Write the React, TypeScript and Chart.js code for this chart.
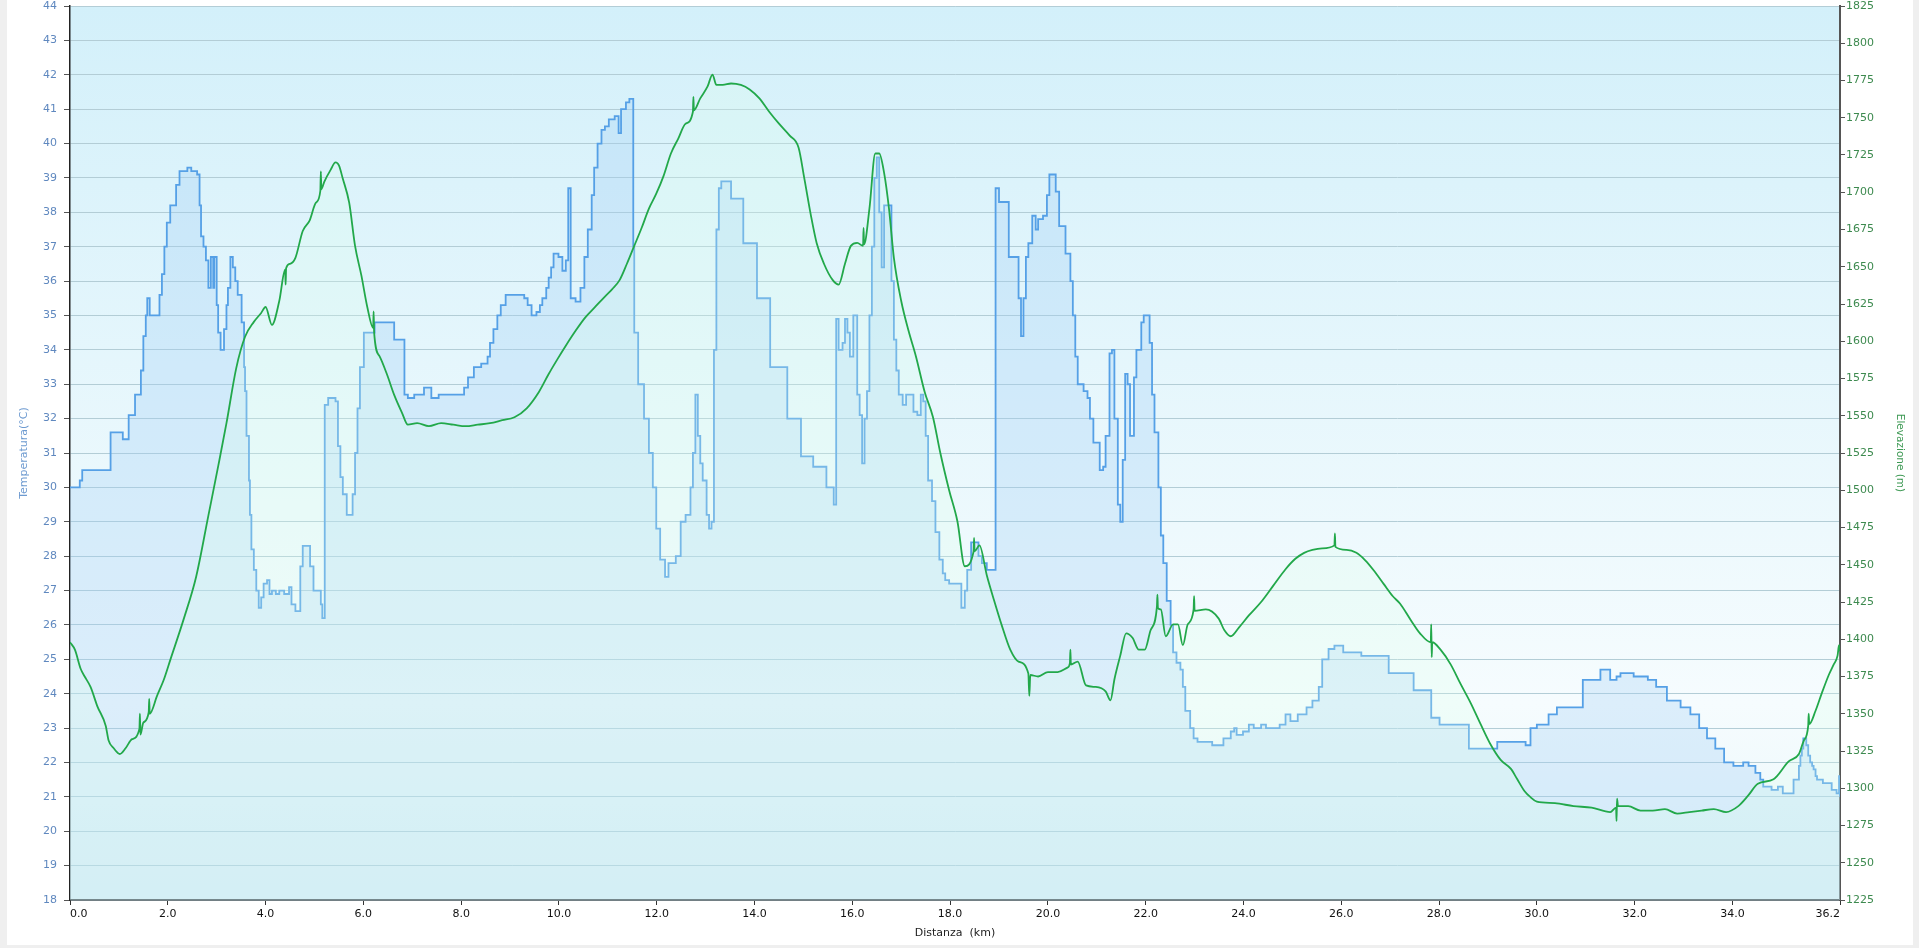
import React, { useEffect, useRef } from "react";
import { Chart, registerables } from "chart.js";

Chart.register(...registerables);

const FONT = "'DejaVu Sans', Verdana, sans-serif";

// temperature steps: distance (km) where the reading changes, and the new value (°C)
const tempKm = [
  0.0, 0.2, 0.25, 0.83, 1.08, 1.2, 1.33, 1.45, 1.5, 1.55, 1.58, 1.63, 1.83, 1.88, 1.93, 1.98,
  2.05, 2.17, 2.24, 2.4, 2.48, 2.6, 2.65, 2.68, 2.73, 2.78, 2.83, 2.88, 2.93, 2.95, 3.0, 3.03,
  3.08, 3.15, 3.2, 3.23, 3.28, 3.33, 3.38, 3.43, 3.51, 3.56, 3.58, 3.61, 3.66, 3.68, 3.71, 3.76,
  3.81, 3.86, 3.91, 3.96, 4.03, 4.08, 4.13, 4.21, 4.28, 4.38, 4.48, 4.53, 4.61, 4.71, 4.76, 4.91,
  4.98, 5.13, 5.16, 5.21, 5.28, 5.43, 5.48, 5.53, 5.58, 5.66, 5.78, 5.83, 5.88, 5.93, 6.01, 6.23,
  6.63, 6.84, 6.91, 7.04, 7.24, 7.39, 7.54, 8.06, 8.14, 8.26, 8.41, 8.54, 8.59, 8.66, 8.74, 8.81,
  8.91, 9.29, 9.36, 9.44, 9.54, 9.61, 9.66, 9.74, 9.79, 9.84, 9.89, 9.99, 10.07, 10.14, 10.19, 10.24,
  10.34, 10.44, 10.52, 10.59, 10.67, 10.72, 10.79, 10.87, 10.94, 11.02, 11.14, 11.22, 11.27, 11.37, 11.44, 11.52,
  11.54, 11.62, 11.74, 11.84, 11.92, 11.99, 12.07, 12.17, 12.24, 12.39, 12.49, 12.59, 12.69, 12.74, 12.79, 12.84,
  12.89, 12.94, 13.02, 13.07, 13.12, 13.17, 13.22, 13.27, 13.32, 13.52, 13.77, 14.05, 14.32, 14.67, 14.95, 15.2,
  15.47, 15.62, 15.67, 15.72, 15.8, 15.85, 15.9, 15.95, 16.02, 16.1, 16.15, 16.2, 16.25, 16.3, 16.35, 16.4,
  16.45, 16.5, 16.55, 16.6, 16.65, 16.8, 16.85, 16.9, 16.95, 17.03, 17.1, 17.25, 17.33, 17.4, 17.45, 17.5,
  17.55, 17.63, 17.7, 17.78, 17.85, 17.9, 17.98, 18.23, 18.3, 18.35, 18.43, 18.58, 18.65, 18.75, 18.93, 19.0,
  19.2, 19.4, 19.45, 19.5, 19.55, 19.6, 19.68, 19.75, 19.8, 19.9, 19.98, 20.03, 20.16, 20.23, 20.36, 20.46,
  20.51, 20.56, 20.61, 20.73, 20.81, 20.86, 20.93, 21.06, 21.13, 21.18, 21.26, 21.31, 21.36, 21.43, 21.48, 21.53,
  21.58, 21.63, 21.68, 21.76, 21.81, 21.91, 21.96, 22.08, 22.13, 22.18, 22.26, 22.31, 22.36, 22.43, 22.51, 22.56,
  22.63, 22.71, 22.76, 22.81, 22.91, 22.98, 23.06, 23.36, 23.59, 23.74, 23.81, 23.86, 23.99, 24.11, 24.21, 24.36,
  24.46, 24.74, 24.86, 24.96, 25.11, 25.29, 25.41, 25.54, 25.61, 25.74, 25.86, 26.04, 26.41, 26.97, 27.48, 27.84,
  28.01, 28.61, 29.19, 29.77, 29.87, 30.0, 30.24, 30.41, 30.94, 31.3, 31.5, 31.63, 31.71, 31.98, 32.27, 32.44,
  32.66, 32.94, 33.14, 33.32, 33.48, 33.65, 33.83, 34.02, 34.22, 34.33, 34.47, 34.57, 34.63, 34.8, 34.93, 35.03,
  35.25, 35.36, 35.39, 35.42, 35.45, 35.51, 35.55, 35.59, 35.63, 35.66, 35.7, 35.73, 35.85, 36.03, 36.13, 36.18,
  36.2,
];
const tempC = [
  30.0, 30.2, 30.5, 31.6, 31.4, 32.1, 32.7, 33.4, 34.4, 35.0, 35.5, 35.0, 35.6, 36.2, 37.0, 37.7,
  38.2, 38.8, 39.2, 39.3, 39.2, 39.1, 38.2, 37.3, 37.0, 36.6, 35.8, 36.7, 35.8, 36.7, 35.3, 34.5,
  34.0, 34.6, 35.3, 35.8, 36.7, 36.4, 36.0, 35.6, 34.8, 33.5, 32.8, 31.5, 30.2, 29.2, 28.2, 27.6,
  27.0, 26.5, 26.8, 27.2, 27.3, 26.9, 27.0, 26.9, 27.0, 26.9, 27.1, 26.6, 26.4, 27.7, 28.3, 27.7,
  27.0, 26.6, 26.2, 32.4, 32.6, 32.5, 31.2, 30.3, 29.8, 29.2, 29.8, 31.0, 32.3, 33.5, 34.5, 34.8,
  34.3, 32.7, 32.6, 32.7, 32.9, 32.6, 32.7, 32.9, 33.2, 33.5, 33.6, 33.8, 34.2, 34.6, 35.0, 35.3,
  35.6, 35.5, 35.3, 35.0, 35.1, 35.3, 35.5, 35.8, 36.1, 36.4, 36.8, 36.7, 36.3, 36.6, 38.7, 35.5,
  35.4, 35.8, 36.7, 37.5, 38.5, 39.3, 40.0, 40.4, 40.5, 40.7, 40.8, 40.3, 41.0, 41.2, 41.3, 37.0,
  34.5, 33.0, 32.0, 31.0, 30.0, 28.8, 27.9, 27.4, 27.8, 28.0, 29.0, 29.2, 30.0, 31.0, 32.7, 31.5,
  30.7, 30.2, 29.2, 28.8, 29.0, 34.0, 37.5, 38.7, 38.9, 38.4, 37.1, 35.5, 33.5, 32.0, 30.9, 30.6,
  30.0, 29.5, 34.9, 34.0, 34.2, 34.9, 34.5, 33.8, 35.0, 32.7, 32.1, 30.7, 32.0, 32.8, 35.0, 37.0,
  39.0, 39.6, 38.0, 36.4, 38.2, 36.0, 34.3, 33.4, 32.7, 32.4, 32.7, 32.2, 32.1, 32.7, 32.5, 31.5,
  30.2, 29.6, 28.7, 27.9, 27.5, 27.3, 27.2, 26.5, 27.0, 27.6, 28.4, 28.0, 27.8, 27.6, 38.7, 38.3,
  36.7, 35.5, 34.4, 35.5, 36.7, 37.1, 37.9, 37.5, 37.8, 37.9, 38.5, 39.1, 38.6, 37.6, 36.8, 36.0,
  35.0, 33.8, 33.0, 32.8, 32.6, 32.0, 31.3, 30.5, 30.6, 31.5, 33.9, 34.0, 32.0, 29.5, 29.0, 30.8,
  33.3, 33.0, 31.5, 33.2, 34.0, 34.8, 35.0, 34.2, 32.7, 31.6, 30.0, 28.6, 27.8, 26.7, 26.0, 25.2,
  24.9, 24.7, 24.2, 23.5, 23.0, 22.7, 22.6, 22.5, 22.7, 22.9, 23.0, 22.8, 22.9, 23.1, 23.0, 23.1,
  23.0, 23.1, 23.4, 23.2, 23.4, 23.6, 23.8, 24.2, 25.0, 25.3, 25.4, 25.2, 25.1, 24.6, 24.1, 23.3,
  23.1, 22.4, 22.6, 22.5, 23.0, 23.1, 23.4, 23.6, 24.4, 24.7, 24.4, 24.5, 24.6, 24.5, 24.4, 24.2,
  23.8, 23.6, 23.4, 23.0, 22.7, 22.4, 22.0, 21.9, 22.0, 21.9, 21.7, 21.5, 21.3, 21.2, 21.3, 21.1,
  21.5, 21.9, 22.2, 22.4, 22.7, 22.5, 22.2, 22.0, 21.9, 21.8, 21.6, 21.5, 21.4, 21.2, 21.1, 21.6,
  21.0,
];

// elevation profile: distance (km) and altitude (m), with the GPS spikes kept
const elevKm = [
  0.0, 0.1, 0.22, 0.3, 0.42, 0.56, 0.73, 0.79, 0.89, 1.02, 1.14, 1.27, 1.42, 1.43, 1.44, 1.5,
  1.61, 1.62, 1.63, 1.78, 1.92, 2.05, 2.33, 2.58, 2.83, 3.03, 3.2, 3.4, 3.58, 3.76, 3.91, 4.0,
  4.13, 4.28, 4.4, 4.41, 4.42, 4.5, 4.61, 4.76, 4.9, 5.03, 5.12, 5.13, 5.14, 5.2, 5.33, 5.43,
  5.5, 5.58, 5.71, 5.83, 5.96, 6.08, 6.2, 6.21, 6.22, 6.33, 6.48, 6.63, 6.79, 6.91, 7.1, 7.34,
  7.59, 7.84, 8.09, 8.34, 8.59, 8.84, 9.09, 9.34, 9.59, 9.79, 9.97, 10.14, 10.34, 10.54, 10.74, 10.94,
  11.09, 11.24, 11.39, 11.54, 11.69, 11.84, 11.99, 12.14, 12.29, 12.44, 12.59, 12.74, 12.75, 12.76, 12.89, 13.04,
  13.14, 13.22, 13.35, 13.52, 13.72, 13.9, 14.1, 14.3, 14.5, 14.72, 14.9, 15.02, 15.15, 15.27, 15.42, 15.6,
  15.72, 15.85, 15.97, 16.1, 16.22, 16.23, 16.24, 16.35, 16.47, 16.55, 16.65, 16.75, 16.85, 17.0, 17.15, 17.3,
  17.48, 17.65, 17.8, 17.98, 18.15, 18.3, 18.48, 18.49, 18.5, 18.6, 18.75, 18.9, 19.05, 19.23, 19.4, 19.6,
  19.62, 19.64, 19.8, 20.0, 20.2, 20.4, 20.45, 20.46, 20.47, 20.61, 20.78, 20.98, 21.18, 21.28, 21.36, 21.48,
  21.6, 21.73, 21.86, 21.98, 22.1, 22.23, 22.24, 22.25, 22.31, 22.41, 22.56, 22.66, 22.76, 22.86, 22.98, 22.99,
  23.0, 23.23, 23.49, 23.61, 23.74, 23.91, 24.11, 24.36, 24.61, 24.86, 25.06, 25.24, 25.41, 25.61, 25.86, 25.87,
  25.88, 26.11, 26.31, 26.49, 26.67, 26.87, 27.05, 27.2, 27.42, 27.61, 27.83, 27.84, 27.85, 27.86, 28.03, 28.24,
  28.44, 28.65, 28.85, 29.06, 29.26, 29.47, 29.6, 29.75, 29.87, 30.0, 30.37, 30.75, 31.12, 31.5, 31.62, 31.63,
  31.64, 31.66, 31.87, 32.12, 32.37, 32.62, 32.87, 33.12, 33.37, 33.62, 33.87, 34.12, 34.32, 34.52, 34.84, 35.15,
  35.36, 35.46, 35.55, 35.56, 35.57, 35.7, 35.83, 35.97, 36.07, 36.15, 36.18, 36.2,
];
const elevM = [
  1398, 1393, 1380, 1375, 1368, 1355, 1342, 1332, 1327, 1323, 1327, 1333, 1340, 1350, 1336, 1344,
  1351, 1360, 1350, 1362, 1373, 1386, 1414, 1442, 1483, 1516, 1545, 1582, 1603, 1613, 1619, 1623,
  1611, 1627, 1648, 1638, 1649, 1652, 1656, 1674, 1681, 1693, 1701, 1714, 1702, 1707, 1715, 1720,
  1718, 1709, 1693, 1664, 1644, 1623, 1609, 1620, 1606, 1590, 1578, 1564, 1552, 1544, 1545, 1543,
  1545, 1544, 1543, 1544, 1545, 1547, 1549, 1555, 1566, 1578, 1588, 1597, 1607, 1616, 1623, 1630,
  1635, 1641, 1652, 1664, 1676, 1689, 1699, 1711, 1726, 1736, 1746, 1754, 1764, 1755, 1763, 1771,
  1779, 1772, 1772, 1773, 1772, 1769, 1763, 1754, 1746, 1738, 1730, 1709, 1685, 1666, 1652, 1641,
  1638, 1652, 1664, 1666, 1664, 1676, 1665, 1689, 1726, 1726, 1713, 1689, 1656, 1627, 1607, 1590,
  1566, 1549, 1525, 1500, 1479, 1449, 1459, 1468, 1459, 1463, 1443, 1426, 1410, 1393, 1385, 1377,
  1362, 1376, 1375, 1378, 1378, 1381, 1384, 1393, 1383, 1385, 1369, 1368, 1365, 1359, 1373, 1389,
  1404, 1401, 1393, 1393, 1406, 1422, 1430, 1421, 1420, 1402, 1410, 1410, 1396, 1410, 1420, 1429,
  1419, 1420, 1414, 1406, 1402, 1408, 1416, 1425, 1436, 1447, 1454, 1458, 1460, 1461, 1463, 1471,
  1462, 1460, 1458, 1453, 1446, 1437, 1429, 1424, 1413, 1404, 1398, 1410, 1388, 1398, 1393, 1383,
  1370, 1357, 1343, 1329, 1319, 1313, 1306, 1298, 1294, 1291, 1290, 1288, 1287, 1284, 1287, 1278,
  1293, 1288, 1288, 1285, 1285, 1286, 1283, 1284, 1285, 1286, 1284, 1288, 1295, 1303, 1306, 1318,
  1323, 1332, 1342, 1350, 1343, 1352, 1364, 1376, 1383, 1389, 1396, 1392,
];

const xTicks = [0, 2, 4, 6, 8, 10, 12, 14, 16, 18, 20, 22, 24, 26, 28, 30, 32, 34, 36.2];

const plotBackground = {
  id: "plotBackground",
  beforeDraw(chart: Chart) {
    const { ctx, chartArea: a } = chart;
    const g = ctx.createLinearGradient(0, a.top, 0, a.bottom);
    g.addColorStop(0, "#d3f0fa");
    g.addColorStop(0.78, "#f6fcfe");
    g.addColorStop(1, "#e8f6fa");
    ctx.save();
    ctx.fillStyle = g;
    ctx.fillRect(a.left, a.top, a.right - a.left, a.bottom - a.top);
    ctx.restore();
  },
};

export default function App() {
  const canvasRef = useRef<HTMLCanvasElement>(null);

  useEffect(() => {
    if (!canvasRef.current) return;
    Chart.defaults.font.family = FONT;

    const chart = new Chart(canvasRef.current, {
      type: "line",
      data: {
        datasets: [
          {
            label: "Elevazione",
            yAxisID: "y2",
            data: elevKm.map((x, i) => ({ x, y: elevM[i] })),
            borderColor: "#22a84a",
            borderWidth: 1.8,
            backgroundColor: "rgba(220,255,235,0.25)",
            fill: "start",
            pointRadius: 0,
            cubicInterpolationMode: "monotone",
          },
          {
            label: "Temperatura",
            yAxisID: "y",
            data: tempKm.map((x, i) => ({ x, y: tempC[i] })),
            borderColor: "#55a0e6",
            borderWidth: 1.8,
            backgroundColor: "rgba(160,205,245,0.3)",
            fill: "start",
            pointRadius: 0,
            stepped: true,
          },
        ],
      },
      options: {
        responsive: false,
        animation: false,
        layout: { padding: { top: 6, left: 0, right: 0, bottom: 0 } },
        plugins: {
          legend: { display: false },
          tooltip: { enabled: false },
        },
        scales: {
          x: {
            type: "linear",
            min: 0,
            max: 36.2,
            afterBuildTicks: (s: any) => {
              s.ticks = xTicks.map((value) => ({ value }));
            },
            afterFit: (s: any) => {
              s.height = 48;
              s.paddingLeft = 0;
              s.paddingRight = 0;
            },
            grid: { drawOnChartArea: false, tickLength: 5, tickColor: "#333" },
            border: { color: "#333", width: 1.5 },
            ticks: {
              align: "inner",
              color: "#111",
              font: { size: 11 },
              padding: 3,
              maxRotation: 0,
              autoSkip: false,
              callback: (v: any) => Number(v).toFixed(1),
            },
            title: {
              display: true,
              text: "Distanza  (km)",
              color: "#222",
              font: { size: 11 },
              padding: { top: 0, bottom: 8 },
            },
          },
          y: {
            position: "left",
            min: 18,
            max: 44,
            afterFit: (s: any) => {
              s.width = 70;
              s.paddingTop = 0;
              s.paddingBottom = 0;
            },
            ticks: {
              stepSize: 1,
              color: "#5f88bf",
              font: { size: 11 },
              padding: 7,
              autoSkip: false,
              callback: (v: any) => String(v),
            },
            grid: { color: "#b3cdd6", tickColor: "#555", tickLength: 6 },
            border: { color: "#222", width: 1.5 },
            title: {
              display: true,
              text: "Temperatura(°C)",
              color: "#6d9ad0",
              font: { size: 11 },
              padding: { top: 18, bottom: 0 },
            },
          },
          y2: {
            position: "right",
            min: 1225,
            max: 1825,
            afterFit: (s: any) => {
              s.width = 79;
              s.paddingTop = 0;
              s.paddingBottom = 0;
            },
            ticks: {
              stepSize: 25,
              color: "#3d8a4f",
              font: { size: 11 },
              padding: 1,
              autoSkip: false,
              callback: (v: any) => String(v),
            },
            grid: { drawOnChartArea: false, tickColor: "#555", tickLength: 5 },
            border: { color: "#555", width: 2 },
            title: {
              display: true,
              text: "Elevazione (m)",
              color: "#3f9a55",
              font: { size: 10.5 },
              padding: { top: 13, bottom: 0 },
            },
          },
        },
      },
      plugins: [plotBackground],
    } as any);

    return () => chart.destroy();
  }, []);

  return (
    <div
      style={{
        position: "fixed",
        left: 0,
        top: 0,
        width: 1919,
        height: 948,
        background: "#efefef",
        overflow: "hidden",
      }}
    >
      <div style={{ position: "absolute", left: 7, top: 0, width: 1906, height: 945, background: "#fff" }} />
      <canvas
        ref={canvasRef}
        width={1919}
        height={948}
        style={{ position: "absolute", left: 0, top: 0, width: 1919, height: 948 }}
      />
    </div>
  );
}
